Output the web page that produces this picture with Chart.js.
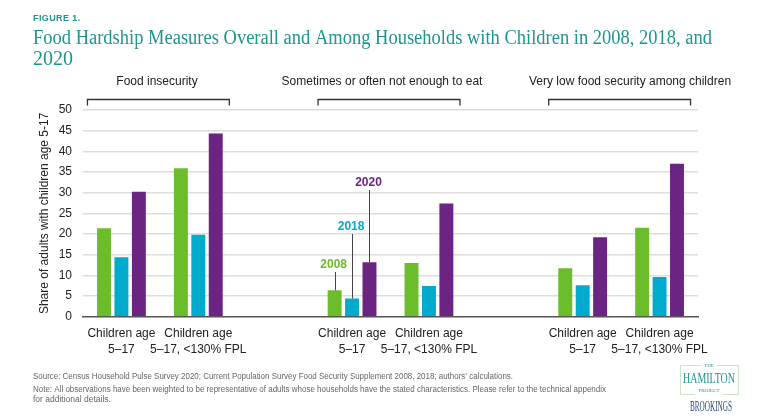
<!DOCTYPE html>
<html>
<head>
<meta charset="utf-8">
<script src="https://cdn.jsdelivr.net/npm/chart.js@4.4.1/dist/chart.umd.min.js"></script>
<style>
  html, body { margin: 0; padding: 0; background: #fff; }
  #wrap { width: 768px; height: 419px; position: relative; }
</style>
</head>
<body>
<div id="wrap"><canvas id="chart"></canvas></div>
<script>
// Categories: two per measure, with an empty slot between measures
const categories = [
    ['Children age', '5–17'], ['Children age', '5–17, <130% FPL'], '',
    ['Children age', '5–17'], ['Children age', '5–17, <130% FPL'], '',
    ['Children age', '5–17'], ['Children age', '5–17, <130% FPL']
];
const seriesNames = ['2008', '2018', '2020'];
const values2008 = [21.4, 35.9, null, 6.4, 13.0, null, 11.7, 21.5];
const values2018 = [14.4, 19.8, null, 4.4, 7.4, null, 7.6, 9.6];
const values2020 = [30.2, 44.3, null, 13.2, 27.4, null, 19.2, 37.0];
const yMin = 0, yMax = 50, yStep = 5;
const groupTitles = ['Food insecurity', 'Sometimes or often not enough to eat', 'Very low food security among children'];
const yTitle = 'Share of adults with children age 5-17';
const titleLines = ['Food Hardship Measures Overall and Among Households with Children in 2008, 2018, and', '2020'];
const sourceLines = [
    'Source: Census Household Pulse Survey 2020; Current Population Survey Food Security Supplement 2008, 2018; authors\u2019 calculations.',
    'Note: All observations have been weighted to be representative of adults whose households have the stated characteristics. Please refer to the technical appendix',
    'for additional details.'
];

const colors = ['#6cbd2b', '#00abcd', '#6c2483'];
const teal = '#1f958f';
const SANS = '"Liberation Sans", Arial, sans-serif';
const SERIF = '"Liberation Serif", "Times New Roman", serif';

// Titles, brackets, call-outs, footer and logo
const extras = {
    id: 'extras',
    afterDraw(chart) {
        const ctx = chart.ctx;
        const xs = chart.scales.x;
        ctx.save();

        ctx.fillStyle = teal;
        ctx.textAlign = 'left';
        ctx.textBaseline = 'alphabetic';
        ctx.font = 'bold 9px ' + SANS;
        ctx.letterSpacing = '0.4px';
        ctx.fillText('FIGURE 1.', 33, 21);
        ctx.letterSpacing = '0px';
        ctx.font = '20px ' + SERIF;
        ctx.fillText(titleLines[0], 33, 44, 679);
        ctx.fillText(titleLines[1], 33, 65);

        // group headers + brackets
        const headerX = [157, 382, 630];
        ctx.fillStyle = '#222';
        ctx.font = '12px ' + SANS;
        ctx.textAlign = 'center';
        ctx.textBaseline = 'middle';
        ctx.strokeStyle = '#333';
        ctx.lineWidth = 1.3;
        groupTitles.forEach((t, g) => {
            ctx.fillText(t, headerX[g], 82);
            const l = xs.getPixelForValue(g * 3) - 34;
            const r = xs.getPixelForValue(g * 3 + 1) + 31;
            ctx.beginPath();
            ctx.moveTo(l, 105.5);
            ctx.lineTo(l, 99.5);
            ctx.lineTo(r, 99.5);
            ctx.lineTo(r, 105.5);
            ctx.stroke();
        });

        // series call-outs on the "not enough to eat" group
        const labelBase = [268, 230, 186];
        ctx.font = 'bold 12px ' + SANS;
        ctx.textBaseline = 'alphabetic';
        ctx.lineWidth = 1;
        ctx.strokeStyle = '#444';
        seriesNames.forEach((name, d) => {
            const bar = chart.getDatasetMeta(d).data[3];
            ctx.fillStyle = colors[d];
            ctx.fillText(name, bar.x - 1, labelBase[d]);
            ctx.beginPath();
            ctx.moveTo(Math.round(bar.x) + 0.5, labelBase[d] + 4);
            ctx.lineTo(Math.round(bar.x) + 0.5, bar.y);
            ctx.stroke();
        });

        // footer
        ctx.fillStyle = '#666';
        ctx.textAlign = 'left';
        ctx.textBaseline = 'middle';
        ctx.font = '8.5px ' + SANS;
        ctx.fillText(sourceLines[0], 33, 377, 480);
        ctx.fillText(sourceLines[1], 33, 390, 573);
        ctx.fillText(sourceLines[2], 33, 400);

        // logo
        ctx.strokeStyle = '#cfe3c6';
        ctx.lineWidth = 1;
        ctx.strokeRect(680.5, 365.5, 58, 29);
        ctx.fillStyle = '#fff';
        ctx.fillRect(701, 362, 16, 7);
        ctx.fillRect(695, 388, 28, 7);
        ctx.fillStyle = teal;
        ctx.textAlign = 'center';
        ctx.font = '5px ' + SERIF;
        ctx.fillText('THE', 709, 365.5);
        ctx.fillText('PROJECT', 709, 391);
        ctx.font = '15px ' + SERIF;
        ctx.fillText('HAMILTON', 709, 379, 52);
        ctx.fillStyle = '#27497a';
        ctx.font = '14px ' + SERIF;
        ctx.fillText('BROOKINGS', 711, 407, 42);

        ctx.restore();
    }
};

const datasets = [values2008, values2018, values2020].map((vals, i) => ({
    label: seriesNames[i],
    data: vals,
    backgroundColor: colors[i],
    borderWidth: 0,
    categoryPercentage: 0.68,
    barPercentage: 0.8
}));

new Chart(document.getElementById('chart'), {
    type: 'bar',
    data: { labels: categories, datasets: datasets },
    options: {
        responsive: true,
        maintainAspectRatio: false,
        animation: false,
        layout: { padding: { top: 110, right: 70, bottom: 60, left: 30 } },
        plugins: {
            legend: { display: false },
            tooltip: { enabled: false }
        },
        scales: {
            x: {
                grid: { display: false },
                border: { display: true, color: '#555', width: 1.5 },
                ticks: {
                    color: '#222',
                    font: { family: SANS, size: 12, lineHeight: 1.33 },
                    padding: 1.5,
                    maxRotation: 0,
                    autoSkip: false
                },
                afterFit(scale) { scale.height = 42.3; }
            },
            y: {
                min: yMin,
                max: yMax,
                grid: {
                    color: c => c.tick.value === 0 ? 'rgba(0,0,0,0)' : '#dddddd',
                    lineWidth: 1.5,
                    drawTicks: false
                },
                border: { display: false },
                ticks: {
                    stepSize: yStep,
                    color: '#222',
                    font: { family: SANS, size: 12 },
                    padding: 11
                },
                title: {
                    display: true,
                    text: yTitle,
                    color: '#222',
                    font: { family: SANS, size: 12 },
                    padding: { top: 7, bottom: 0 }
                },
                afterFit(scale) { scale.width = 53; }
            }
        }
    },
    plugins: [extras]
});
</script>
</body>
</html>
